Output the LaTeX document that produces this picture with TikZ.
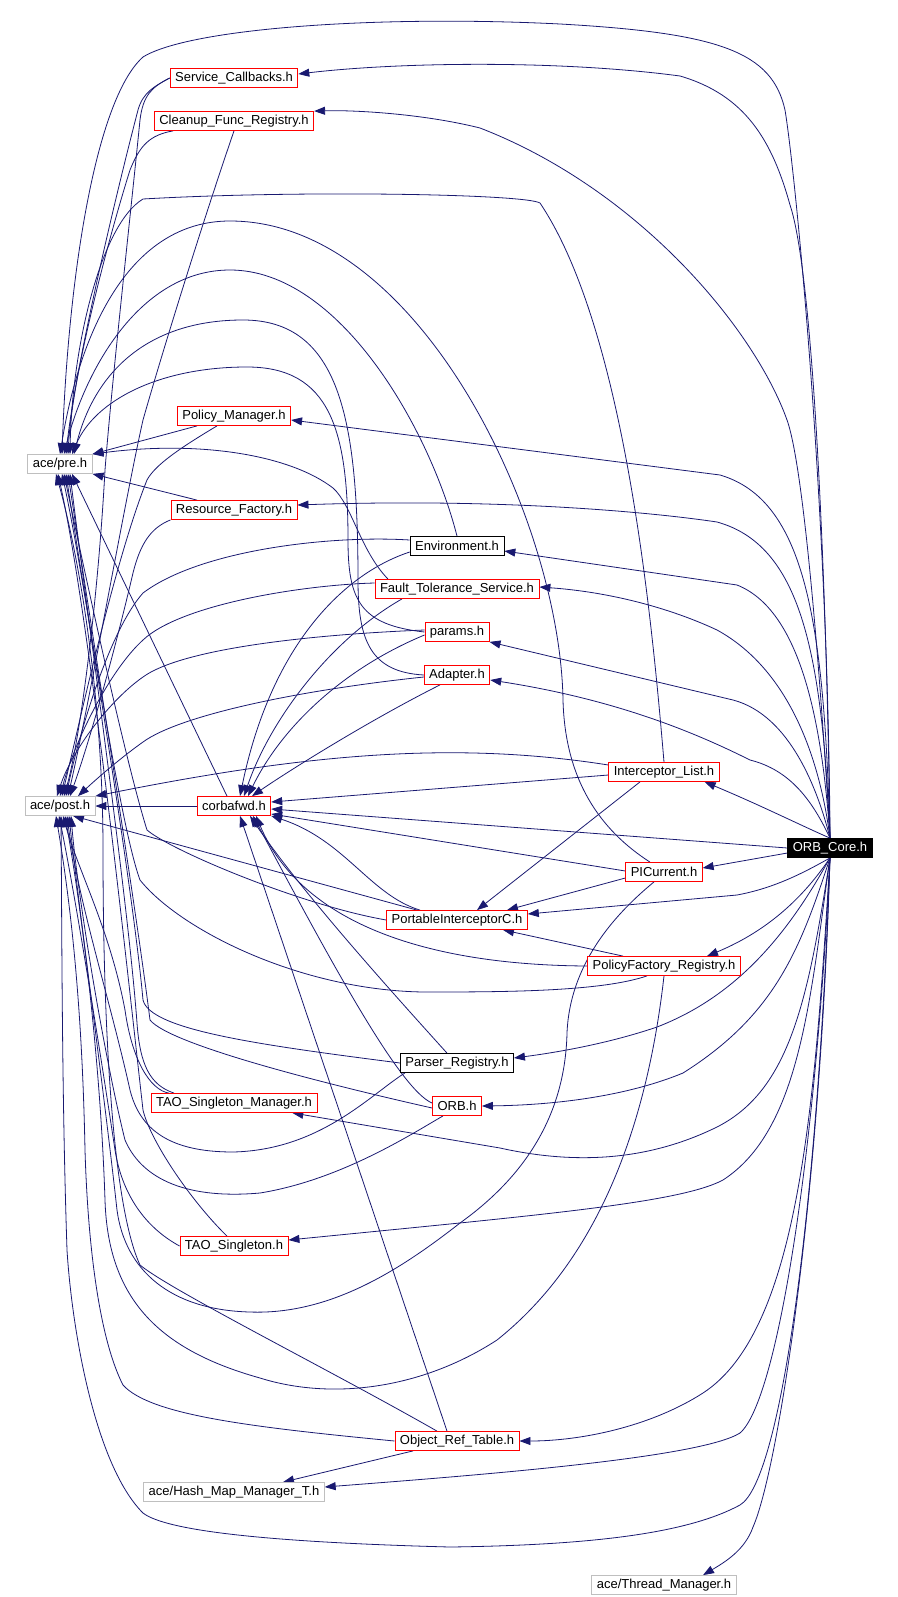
\documentclass[tikz,border=0pt]{standalone}
\usepackage{fontspec}
\setmainfont{Liberation Sans}
\usepackage{xcolor}
\usetikzlibrary{arrows.meta,backgrounds}
\definecolor{edgeblue}{HTML}{191970}
\definecolor{boxred}{HTML}{FF0000}
\definecolor{boxgray}{HTML}{BFBFBF}

\begin{document}
\begin{tikzpicture}[x=1pt, y=-1pt,
    hdr/.style={draw=boxred, fill=white, line width=0.8pt, inner xsep=5pt, inner ysep=0pt,
      minimum height=19pt, font=\fontsize{13}{15}\selectfont},
    syshdr/.style={hdr, draw=boxgray},
    plainhdr/.style={hdr, draw=black},
    mainhdr/.style={hdr, draw=black, fill=black, text=white},
    inc/.style={draw=edgeblue, line width=0.8pt, -{Triangle[length=11pt,width=8pt]}}]
    \useasboundingbox (0,0) rectangle (897,1597);

    \node[hdr] (svc) at (234,78) {Service\_Callbacks.h};
    \node[hdr] (cleanup) at (234,121) {Cleanup\_Func\_Registry.h};
    \node[syshdr] (pre) at (60,464) {ace/pre.h};
    \node[hdr] (polmgr) at (234,416) {Policy\_Manager.h};
    \node[hdr] (resfac) at (234,510) {Resource\_Factory.h};
    \node[plainhdr] (env) at (457,546) {Environment.h};
    \node[hdr] (ft) at (457,589) {Fault\_Tolerance\_Service.h};
    \node[hdr] (params) at (457,632) {params.h};
    \node[hdr] (adapter) at (457,675) {Adapter.h};
    \node[hdr] (intlist) at (664,772) {Interceptor\_List.h};
    \node[syshdr] (post) at (60,806) {ace/post.h};
    \node[hdr] (corba) at (234,806) {corbafwd.h};
    \node[mainhdr] (orbcore) at (830,848) {ORB\_Core.h};
    \node[hdr] (picur) at (664,872) {PICurrent.h};
    \node[hdr] (pic) at (457,920) {PortableInterceptorC.h};
    \node[hdr] (pfreg) at (664,966) {PolicyFactory\_Registry.h};
    \node[plainhdr] (parser) at (457,1063) {Parser\_Registry.h};
    \node[hdr] (orb) at (457,1106) {ORB.h};
    \node[hdr] (tsm) at (234,1103) {TAO\_Singleton\_Manager.h};
    \node[hdr] (ts) at (234,1246) {TAO\_Singleton.h};
    \node[hdr] (ort) at (457,1441) {Object\_Ref\_Table.h};
    \node[syshdr] (hash) at (234,1492) {ace/Hash\_Map\_Manager\_T.h};
    \node[syshdr] (thread) at (664,1585) {ace/Thread\_Manager.h};

    \begin{pgfonlayer}{background}
    % ORB_Core.h, upwards
    \draw[inc] (orbcore.north) .. controls (828,500) and (795,170) .. (785,110) .. controls (772,52) and (720,33) .. (560,24) .. controls (380,15) and (190,28) .. (143,57) .. controls (95,100) and (68,280) .. ([xshift=2pt]pre.north);
    \draw[inc] (orbcore.north) .. controls (826,550) and (812,270) .. (790,205) .. controls (772,140) and (745,95) .. (680,76) .. controls (560,60) and (400,62) .. ([yshift=4pt]svc.east);
    \draw[inc] (orbcore.north) .. controls (822,700) and (805,470) .. (787,420) .. controls (755,330) and (640,190) .. (480,128) .. controls (420,113) and (350,110) .. (cleanup.north east);
    \draw[inc] (orbcore.north) .. controls (824,620) and (805,500) .. (720,475) -- ([yshift=-4pt]polmgr.east);
    \draw[inc] (orbcore.north) .. controls (822,650) and (800,545) .. (717,522) .. controls (650,512) and (500,498) .. ([yshift=5pt]resfac.east);
    \draw[inc] (orbcore.north) .. controls (822,720) and (800,610) .. (737,585) -- ([yshift=-5pt]env.east);
    \draw[inc] (orbcore.north) .. controls (820,760) and (790,670) .. (717,630) .. controls (670,608) and (610,592) .. ([yshift=2pt]ft.east);
    \draw[inc] (orbcore.north) .. controls (818,790) and (790,715) .. (733,700) -- (params.south east);
    \draw[inc] (orbcore.north) .. controls (812,800) and (790,770) .. (750,760) .. controls (700,735) and (620,700) .. ([yshift=-5pt]adapter.east);
    \draw[inc] (orbcore.north) .. controls (800,825) and (760,805) .. ([xshift=-15pt]intlist.south east);
    % ORB_Core.h, sideways and down
    \draw[inc] (orbcore.west) -- ([yshift=-3pt]corba.east);
    \draw[inc] ([yshift=-5pt]orbcore.west) -- ([yshift=4pt]picur.east);
    \draw[inc] (orbcore.south) .. controls (805,872) and (775,888) .. (737,895) -- ([yshift=6pt]pic.east);
    \draw[inc] (orbcore.south) .. controls (805,895) and (770,930) .. ([xshift=43pt]pfreg.north);
    \draw[inc] (orbcore.south) .. controls (790,930) and (740,995) .. (657,1027) .. controls (610,1043) and (560,1052) .. ([yshift=5pt]parser.east);
    \draw[inc] (orbcore.south) .. controls (800,950) and (775,1015) .. (683,1073) .. controls (630,1095) and (560,1105) .. (orb.east);
    \draw[inc] (orbcore.south) .. controls (808,1000) and (790,1090) .. (717,1127) .. controls (660,1155) and (590,1168) .. (500,1148) -- ([xshift=-25pt]tsm.south east);
    \draw[inc] (orbcore.south) .. controls (810,1000) and (800,1130) .. (723,1180) .. controls (680,1203) and (540,1215) .. ([yshift=6pt]ts.east);
    \draw[inc] (orbcore.south) .. controls (815,1100) and (800,1330) .. (703,1393) .. controls (650,1427) and (580,1441) .. (ort.east);
    \draw[inc] (orbcore.south) .. controls (816,1150) and (778,1400) .. (740,1433) .. controls (700,1458) and (480,1475) .. ([yshift=5pt]hash.east);
    \draw[inc] (orbcore.south) .. controls (818,1200) and (782,1480) .. (740,1505) .. controls (690,1532) and (600,1545) .. (450,1547) .. controls (260,1542) and (165,1530) .. (143,1513) .. controls (95,1465) and (72,1330) .. (67,1250) .. controls (62,1100) and (62,950) .. ([xshift=1pt]post.south);
    \draw[inc] (orbcore.south) .. controls (820,1200) and (778,1470) .. (753,1527) .. controls (745,1550) and (725,1562) .. ([xshift=39pt]thread.north);

    % into ace/pre.h and ace/post.h from above
    \draw[inc] (svc.west) .. controls (155,86) and (143,92) .. (138,110) .. controls (112,210) and (75,370) .. ([xshift=6pt]pre.north);
    \draw[inc] (svc.west) .. controls (152,87) and (143,95) .. (140,120) .. controls (130,220) and (112,380) .. (105,470) .. controls (98,600) and (80,740) .. ([xshift=4pt]post.north);
    \draw[inc] ([xshift=-61pt]cleanup.south) .. controls (150,135) and (140,145) .. (130,170) .. controls (105,250) and (72,380) .. ([xshift=8pt]pre.north);
    \draw[inc] (cleanup.south) .. controls (200,230) and (160,360) .. (143,420) .. controls (125,500) and (90,700) .. ([xshift=8pt]post.north);
    \draw[inc] ([xshift=-37pt]polmgr.south) -- (pre.north east);
    \draw[inc] ([xshift=-17pt]polmgr.south) .. controls (180,448) and (155,465) .. (147,480) .. controls (115,560) and (80,720) .. ([xshift=2pt]post.north);
    \draw[inc] ([xshift=-37pt]resfac.north) -- (pre.south east);
    \draw[inc] (resfac.south west) .. controls (150,528) and (140,545) .. (133,573) .. controls (115,650) and (90,740) .. ([xshift=10pt]post.north);
    \draw[inc] (env.north) .. controls (430,430) and (340,270) .. (230,270) .. controls (140,270) and (85,370) .. ([xshift=4pt]pre.north);
    \draw[inc] ([yshift=6pt]env.west) .. controls (330,535) and (200,550) .. (143,593) .. controls (110,630) and (80,730) .. ([xshift=6pt]post.north);
    \draw[inc] ([xshift=-69pt]ft.north) .. controls (360,550) and (352,505) .. (333,488) .. controls (290,455) and (200,440) .. (pre.north east);
    \draw[inc] ([yshift=6pt]ft.west) .. controls (300,585) and (180,605) .. (143,640) .. controls (110,670) and (75,740) .. ([xshift=0pt]post.north);
    \draw[inc] (params.west) .. controls (360,625) and (348,600) .. (348,540) .. controls (348,430) and (330,367) .. (247,367) .. controls (160,367) and (95,400) .. ([xshift=12pt]pre.north);
    \draw[inc] ([yshift=2pt]params.west) .. controls (300,635) and (180,650) .. (143,677) .. controls (110,700) and (72,750) .. ([xshift=-3pt]post.north);
    \draw[inc] (adapter.west) .. controls (370,672) and (358,640) .. (358,580) .. controls (358,420) and (340,320) .. (243,320) .. controls (150,320) and (95,370) .. ([xshift=14pt]pre.north);
    \draw[inc] ([yshift=-2pt]adapter.west) .. controls (300,690) and (180,715) .. (143,742) .. controls (115,762) and (90,785) .. ([xshift=18pt]post.north);
    \draw[inc] (intlist.north) .. controls (652,620) and (625,330) .. (540,203) .. controls (525,194) and (300,190) .. (143,199) .. controls (100,225) and (72,350) .. ([xshift=10pt]pre.north);
    \draw[inc] ([yshift=7pt]intlist.west) .. controls (450,740) and (300,755) .. (post.north east);
    \draw[inc] ([xshift=-14pt]picur.north) .. controls (600,830) and (565,780) .. (563,700) .. controls (560,520) and (420,221) .. (230,221) .. controls (130,221) and (80,330) .. (pre.north);
    \draw[inc] (corba.west) -- (post.east);
    \draw[inc] ([xshift=-7pt]corba.north) -- ([xshift=12pt]pre.south);

    % into corbafwd.h
    \draw[inc] ([yshift=-6pt]env.west) .. controls (340,575) and (270,650) .. ([xshift=6pt]corba.north);
    \draw[inc] ([xshift=-55pt]ft.south) .. controls (330,640) and (270,720) .. ([xshift=10pt]corba.north);
    \draw[inc] ([yshift=-3pt]params.west) .. controls (340,670) and (280,730) .. ([xshift=14pt]corba.north);
    \draw[inc] ([xshift=-17pt]adapter.south) .. controls (370,720) and (290,770) .. ([xshift=18pt]corba.north);
    \draw[inc] ([yshift=-3pt]intlist.west) -- ([yshift=4pt]corba.east);
    \draw[inc] ([yshift=1pt]picur.west) -- ([yshift=-8pt]corba.east);
    \draw[inc] ([xshift=-37pt]pic.north) .. controls (370,895) and (345,840) .. (corba.south east);
    \draw[inc] (pfreg.west) .. controls (420,965) and (300,920) .. ([xshift=22pt]corba.south);
    \draw[inc] ([xshift=-10pt]parser.north) .. controls (390,990) and (300,890) .. ([xshift=16pt]corba.south);
    \draw[inc] ([yshift=3pt]orb.west) .. controls (400,1090) and (330,960) .. ([xshift=19pt]corba.south);
    \draw[inc] ([xshift=-10pt]ort.north) -- ([xshift=6pt]corba.south);

    % into PortableInterceptorC.h and ace/Hash_Map_Manager_T.h
    \draw[inc] ([xshift=-24pt]intlist.south) -- ([xshift=20pt]pic.north);
    \draw[inc] ([yshift=-6pt]picur.west) -- ([xshift=50pt]pic.north);
    \draw[inc] ([xshift=-41pt]pfreg.north) -- ([xshift=46pt]pic.south);
    \draw[inc] ([xshift=-44pt]ort.south) -- ([xshift=49pt]hash.north);

    % into ace/pre.h and ace/post.h from below
    \draw[inc] (pic.west) .. controls (300,905) and (170,850) .. (147,830) .. controls (125,760) and (82,560) .. ([xshift=4pt]pre.south);
    \draw[inc] ([xshift=-40pt]pic.north) -- ([xshift=13pt]post.south);
    \draw[inc] ([xshift=-17pt]pfreg.south) .. controls (600,992) and (500,992) .. (423,992) .. controls (300,990) and (180,930) .. (140,880) .. controls (118,820) and (85,580) .. ([xshift=2pt]pre.south);
    \draw[inc] (pfreg.south) .. controls (650,1100) and (610,1250) .. (497,1340) .. controls (420,1390) and (330,1400) .. (260,1378) .. controls (160,1350) and (108,1300) .. (105,1200) .. controls (100,1050) and (80,900) .. ([xshift=5pt]post.south);
    \draw[inc] ([xshift=-10pt]picur.south) .. controls (620,910) and (570,960) .. (567,1033) .. controls (565,1120) and (520,1180) .. (460,1223) .. controls (400,1270) and (330,1315) .. (250,1312) .. controls (170,1310) and (125,1270) .. (117,1210) .. controls (105,1100) and (78,900) .. ([xshift=9pt]post.south);
    \draw[inc] (parser.west) .. controls (260,1045) and (150,1030) .. (143,1000) .. controls (132,880) and (88,620) .. ([xshift=6pt]pre.south);
    \draw[inc] ([xshift=-52pt]parser.south) .. controls (370,1095) and (320,1150) .. (233,1152) .. controls (170,1152) and (140,1130) .. (130,1090) .. controls (110,1000) and (78,900) .. ([xshift=7pt]post.south);
    \draw[inc] ([yshift=-2pt]orb.west) .. controls (330,1085) and (170,1045) .. (150,1020) .. controls (135,900) and (90,620) .. ([xshift=8pt]pre.south);
    \draw[inc] ([xshift=-14pt]orb.south) .. controls (410,1135) and (340,1180) .. (260,1193) .. controls (180,1200) and (140,1175) .. (125,1140) .. controls (105,1060) and (78,900) .. ([xshift=11pt]post.south);
    \draw[inc] ([xshift=-60pt]tsm.north) .. controls (150,1085) and (140,1065) .. (137,1023) .. controls (128,900) and (88,620) .. ([xshift=10pt]pre.south);
    \draw[inc] ([xshift=-65pt]tsm.north) .. controls (150,1090) and (132,1060) .. (125,1010) .. controls (110,930) and (78,870) .. ([xshift=3pt]post.south);
    \draw[inc] ([xshift=-7pt]ts.north) .. controls (190,1200) and (150,1140) .. (143,1110) .. controls (125,950) and (90,620) .. ([xshift=-2pt]pre.south);
    \draw[inc] (ts.west) .. controls (150,1230) and (123,1200) .. (115,1150) .. controls (100,1050) and (76,900) .. ([xshift=-1pt]post.south);
    \draw[inc] ([xshift=-20pt]ort.north) .. controls (330,1370) and (170,1290) .. (140,1265) .. controls (110,1200) and (103,1000) .. (103,850) .. controls (103,700) and (80,560) .. ([xshift=-4pt]pre.south);
    \draw[inc] (ort.west) .. controls (250,1427) and (150,1415) .. (123,1385) .. controls (100,1340) and (88,1250) .. (85,1150) .. controls (82,1000) and (70,900) .. ([xshift=-4pt]post.south);
    \end{pgfonlayer}
\end{tikzpicture}
\end{document}
